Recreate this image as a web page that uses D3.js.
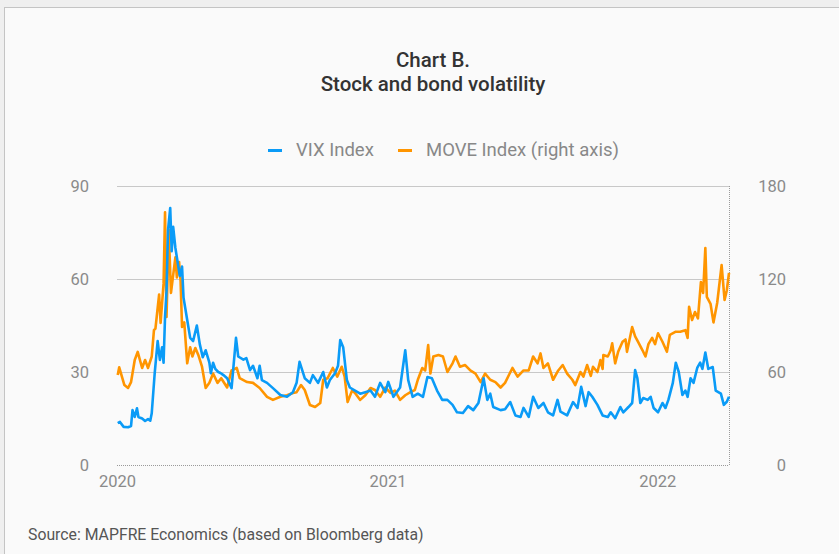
<!DOCTYPE html>
<html>
<head>
<meta charset="utf-8">
<script src="https://cdn.jsdelivr.net/npm/d3@7/dist/d3.min.js"></script>
<style>
  html, body { margin: 0; padding: 0; background: #efefef; }
  svg { display: block; }
  text { font-family: Roboto, "Noto Sans", sans-serif; }
</style>
</head>
<body>
<svg id="chart" width="839" height="554"></svg>
<script>
// VIX Index (left axis)
const vixDates = [
  "2020-01-02","2020-01-05","2020-01-10","2020-01-16","2020-01-20","2020-01-22","2020-01-25","2020-01-28","2020-01-30",
  "2020-02-04","2020-02-08","2020-02-12","2020-02-15","2020-02-17","2020-02-21","2020-02-25","2020-02-28",
  "2020-03-02","2020-03-04","2020-03-06","2020-03-08","2020-03-10","2020-03-13","2020-03-15","2020-03-17","2020-03-20",
  "2020-03-24","2020-03-26","2020-03-29","2020-03-31","2020-04-05","2020-04-09","2020-04-13","2020-04-18","2020-04-22",
  "2020-04-26","2020-04-30","2020-05-05","2020-05-07","2020-05-10","2020-05-13","2020-05-17","2020-05-20","2020-05-24",
  "2020-05-29","2020-06-04","2020-06-10","2020-06-13","2020-06-20","2020-06-24","2020-06-29","2020-07-03","2020-07-09",
  "2020-07-12","2020-07-15","2020-07-22","2020-07-30","2020-08-09","2020-08-18","2020-08-26","2020-08-31","2020-09-04",
  "2020-09-11","2020-09-18","2020-09-22","2020-09-29","2020-10-06","2020-10-11","2020-10-15","2020-10-22","2020-10-26",
  "2020-10-29","2020-11-02","2020-11-07","2020-11-11","2020-11-18","2020-11-25","2020-12-02","2020-12-09","2020-12-15",
  "2020-12-22","2020-12-29","2021-01-02","2021-01-09","2021-01-18","2021-01-25","2021-01-29","2021-02-04","2021-02-11",
  "2021-02-18","2021-02-24","2021-03-02","2021-03-09","2021-03-16","2021-03-23","2021-03-30","2021-04-05","2021-04-13",
  "2021-04-20","2021-04-27","2021-05-04","2021-05-11","2021-05-16","2021-05-20","2021-05-24","2021-06-03","2021-06-09",
  "2021-06-16","2021-06-23","2021-06-30","2021-07-04","2021-07-11","2021-07-17","2021-07-24","2021-07-31","2021-08-06",
  "2021-08-13","2021-08-19","2021-08-23","2021-09-01","2021-09-09","2021-09-15","2021-09-20","2021-09-26","2021-09-30",
  "2021-10-05","2021-10-12","2021-10-19","2021-10-26","2021-10-30","2021-11-05","2021-11-12","2021-11-16","2021-11-23",
  "2021-11-28","2021-12-02","2021-12-05","2021-12-09","2021-12-13","2021-12-19","2021-12-23","2021-12-27","2022-01-02",
  "2022-01-08","2022-01-12","2022-01-16","2022-01-22","2022-01-26","2022-01-30","2022-02-04","2022-02-08","2022-02-11",
  "2022-02-15","2022-02-19","2022-02-24","2022-02-28","2022-03-03","2022-03-07","2022-03-11","2022-03-17","2022-03-21",
  "2022-03-28","2022-04-01","2022-04-05","2022-04-08"
];
const vixValues = [
  13.5,13.9,12.3,12.2,12.6,17.7,15.5,18.3,15.5,
  15.0,14.2,14.8,14.3,16.7,29.6,40.0,33.9,
  38.0,33.0,47.8,56.0,75.8,82.9,69.0,76.8,70.0,
  64.0,61.0,64.0,54.0,46.8,41.0,40.0,45.0,39.0,
  34.8,37.0,33.0,29.6,33.0,31.0,30.0,29.7,29.0,
  28.0,24.8,41.0,35.0,34.0,34.5,30.6,32.0,28.0,
  32.0,27.4,26.5,24.8,22.6,22.0,23.5,26.5,33.3,
  28.0,26.5,29.0,26.5,30.0,25.0,27.4,29.6,32.0,
  40.3,38.0,27.4,25.0,24.0,23.0,23.5,24.0,22.0,
  26.5,23.5,26.8,22.0,25.0,37.0,27.4,22.0,23.0,
  22.0,28.4,28.0,24.0,21.0,21.0,19.4,17.0,16.8,
  19.0,17.7,20.0,28.0,21.0,23.0,18.7,17.7,18.0,
  20.3,16.0,15.5,18.4,15.5,22.0,18.4,20.0,17.0,
  16.0,21.0,17.2,16.0,20.3,18.4,25.2,19.0,23.5,
  22.0,19.4,16.0,15.5,17.0,15.1,18.7,17.0,18.7,
  20.0,30.6,28.0,20.0,21.6,21.0,22.0,18.4,17.0,
  20.0,18.4,21.0,26.5,33.0,30.0,22.6,24.0,22.0,
  28.0,26.5,31.3,33.0,31.0,36.3,31.0,31.6,24.0,
  23.0,19.4,20.4,22.0
];

// MOVE Index (right axis)
const moveDates = [
  "2020-01-02","2020-01-04","2020-01-11","2020-01-16","2020-01-20","2020-01-25","2020-01-29","2020-02-04","2020-02-08",
  "2020-02-12","2020-02-17","2020-02-20","2020-02-22","2020-02-27","2020-02-29","2020-03-04","2020-03-06","2020-03-08",
  "2020-03-11","2020-03-14","2020-03-20","2020-03-22","2020-03-25","2020-03-27","2020-03-29","2020-04-01","2020-04-05",
  "2020-04-09","2020-04-12","2020-04-16","2020-04-20","2020-04-25","2020-04-30","2020-05-05","2020-05-10","2020-05-16",
  "2020-05-21","2020-05-29","2020-06-04","2020-06-11","2020-06-15","2020-06-25","2020-07-03","2020-07-12","2020-07-22",
  "2020-07-30","2020-08-09","2020-08-18","2020-08-26","2020-08-31","2020-09-06","2020-09-11","2020-09-18","2020-09-25",
  "2020-10-02","2020-10-06","2020-10-12","2020-10-19","2020-10-25","2020-10-31","2020-11-04","2020-11-08","2020-11-14",
  "2020-11-18","2020-11-25","2020-12-02","2020-12-09","2020-12-15","2020-12-22","2020-12-29","2021-01-05","2021-01-11",
  "2021-01-18","2021-01-25","2021-02-01","2021-02-07","2021-02-11","2021-02-17","2021-02-21","2021-02-25","2021-02-28",
  "2021-03-04","2021-03-11","2021-03-17","2021-03-23","2021-03-30","2021-04-03","2021-04-09","2021-04-16","2021-04-23",
  "2021-04-30","2021-05-07","2021-05-13","2021-05-20","2021-05-27","2021-06-03","2021-06-09","2021-06-19","2021-06-26",
  "2021-07-04","2021-07-11","2021-07-17","2021-07-23","2021-07-27","2021-07-31","2021-08-06","2021-08-13","2021-08-20",
  "2021-08-26","2021-09-01","2021-09-08","2021-09-12","2021-09-19","2021-09-23","2021-09-28","2021-10-03","2021-10-06",
  "2021-10-12","2021-10-16","2021-10-19","2021-10-20","2021-10-26","2021-10-30","2021-11-01","2021-11-05","2021-11-09",
  "2021-11-15","2021-11-19","2021-11-21","2021-11-28","2021-12-02","2021-12-06","2021-12-12","2021-12-16","2021-12-20",
  "2021-12-25","2021-12-29","2022-01-02","2022-01-08","2022-01-14","2022-01-18","2022-01-26","2022-02-01","2022-02-08",
  "2022-02-11","2022-02-13","2022-02-17","2022-02-21","2022-02-25","2022-03-01","2022-03-04","2022-03-07","2022-03-09",
  "2022-03-14","2022-03-18","2022-03-23","2022-03-29","2022-04-02","2022-04-05","2022-04-08"
];
const moveValues = [
  58,63,51.6,49.7,53.5,67.7,73,62.6,67.7,
  62.6,70,87,88,110,91.6,117,163,95.5,
  151.6,111,134,121,131,119,89,92,65.6,
  76,70,75.5,71,63.4,49.7,53,59,53,
  56,50,61,62.6,56,53.5,53,49.7,44,
  42,44,45,46.5,47,51.6,48.4,38.7,37.4,
  40,55,56,62.6,57,63.4,57,40.6,48,
  46.5,42,45,49.7,48.4,44,50,46.5,48,
  42,45,47,48.4,55,62.6,61,77.4,59,
  70,71,70,60,65.6,70,63.4,64.5,61,
  59,53.5,59,55,53.5,50,53,62.6,57,
  61,61,70,65.6,72,62.6,65.6,55,61,
  64.5,59,55,51.6,60,57,64.5,57.5,63.4,
  60,67.7,62,71,70,74,78.5,65.6,73,
  79.5,81,73,89,83,79.5,74,70,78,
  82,78,85,79.5,73,84,86,86,87,
  82,102,93.5,98.7,94.6,118,111,140,108.5,
  104,92,104.5,129,106.5,112.6,124
];

const leftTicks = [0, 30, 60, 90];
const rightTicks = [0, 60, 120, 180];
const yearTicks = ["2020-01-01", "2021-01-01", "2022-01-01"];

const parse = d3.timeParse("%Y-%m-%d");
const vix = vixDates.map((d, i) => ({ date: parse(d), value: vixValues[i] }));
const move = moveDates.map((d, i) => ({ date: parse(d), value: moveValues[i] }));

const W = 839, H = 554;
const plot = { left: 117, right: 729, top: 186, bottom: 465 };

const svg = d3.select("#chart");

// card background
svg.append("rect")
  .attr("x", 4.5).attr("y", 7.5)
  .attr("width", W).attr("height", H)
  .attr("fill", "#fafafa")
  .attr("stroke", "#c4c4c4").attr("stroke-width", 1);

const x = d3.scaleTime()
  .domain([parse("2020-01-01"), parse("2022-04-08")])
  .range([plot.left, plot.right]);
const yL = d3.scaleLinear().domain([0, 90]).range([plot.bottom, plot.top]);
const yR = d3.scaleLinear().domain([0, 180]).range([plot.bottom, plot.top]);

// horizontal gridlines
const grid = svg.append("g")
  .attr("transform", `translate(${plot.left},0)`)
  .call(d3.axisLeft(yL).tickValues(leftTicks.filter(t => t > 0))
    .tickSize(-(plot.right - plot.left)).tickFormat(""));
grid.select(".domain").remove();
grid.selectAll("line").attr("stroke", "#c8c8c8").attr("stroke-width", 1);

// dotted baseline and right border
svg.append("line")
  .attr("x1", plot.left).attr("x2", plot.right)
  .attr("y1", plot.bottom + 0.5).attr("y2", plot.bottom + 0.5)
  .attr("stroke", "#9a9a9a").attr("stroke-width", 1).attr("stroke-dasharray", "1,1");
svg.append("line")
  .attr("x1", plot.right + 0.5).attr("x2", plot.right + 0.5)
  .attr("y1", plot.top).attr("y2", plot.bottom)
  .attr("stroke", "#9a9a9a").attr("stroke-width", 1).attr("stroke-dasharray", "1,1");

// left axis labels
const axL = svg.append("g")
  .attr("transform", `translate(${plot.left},0)`)
  .call(d3.axisLeft(yL).tickValues(leftTicks).tickSize(0).tickPadding(28));
axL.select(".domain").remove();
axL.selectAll("text").attr("fill", "#8a8a8a").style("font-size", "16.5px");

// right axis labels (right-aligned)
const axR = svg.append("g")
  .attr("transform", `translate(${plot.right},0)`)
  .call(d3.axisRight(yR).tickValues(rightTicks).tickSize(0).tickPadding(57));
axR.select(".domain").remove();
axR.selectAll("text").attr("fill", "#8a8a8a").style("font-size", "16.5px").attr("text-anchor", "end");

// year labels
const axX = svg.append("g")
  .attr("transform", `translate(0,${plot.bottom})`)
  .call(d3.axisBottom(x).tickValues(yearTicks.map(parse))
    .tickFormat(d3.timeFormat("%Y")).tickSize(0).tickPadding(10));
axX.select(".domain").remove();
axX.selectAll("text").attr("fill", "#8a8a8a").style("font-size", "16.5px");

// series lines
const lineL = d3.line().x(d => x(d.date)).y(d => yL(d.value));
const lineR = d3.line().x(d => x(d.date)).y(d => yR(d.value));

svg.append("path").datum(move)
  .attr("d", lineR).attr("fill", "none")
  .attr("stroke", "#ff9500").attr("stroke-width", 2.6).attr("stroke-linejoin", "round");
svg.append("path").datum(vix)
  .attr("d", lineL).attr("fill", "none")
  .attr("stroke", "#0a9bf7").attr("stroke-width", 2.6).attr("stroke-linejoin", "round");

// title
svg.append("text").attr("x", 433).attr("y", 67)
  .attr("text-anchor", "middle").attr("fill", "#333")
  .style("font-size", "20.5px").style("font-weight", "500").text("Chart B.");
svg.append("text").attr("x", 433).attr("y", 91)
  .attr("text-anchor", "middle").attr("fill", "#333")
  .style("font-size", "20.5px").style("font-weight", "500").text("Stock and bond volatility");

// legend
const legend = [
  { label: "VIX Index", color: "#0a9bf7", x: 268 },
  { label: "MOVE Index (right axis)", color: "#ff9500", x: 398 }
];
const lg = svg.append("g");
legend.forEach(l => {
  lg.append("rect").attr("x", l.x).attr("y", 149).attr("width", 14).attr("height", 3).attr("fill", l.color);
  lg.append("text").attr("x", l.x + 28).attr("y", 156)
    .attr("fill", "#888").style("font-size", "18.5px").text(l.label);
});

// source note
svg.append("text").attr("x", 28).attr("y", 540)
  .attr("fill", "#555").style("font-size", "15.8px")
  .text("Source: MAPFRE Economics (based on Bloomberg data)");
</script>
</body>
</html>
